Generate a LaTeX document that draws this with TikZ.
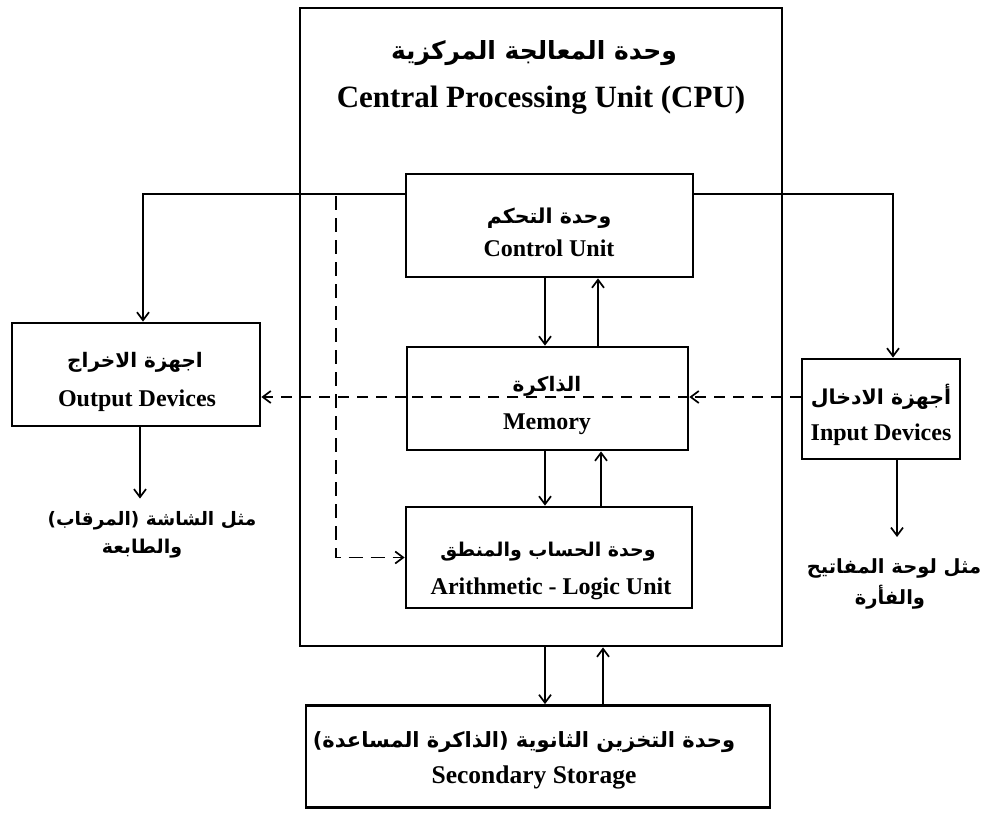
\documentclass[tikz,border=0pt]{standalone}
\usepackage{fontspec}
\setmainfont{Liberation Serif}
\newfontfamily\arabicfont[Script=Arabic]{DejaVu Sans}
\TeXXeTstate=1
\usetikzlibrary{arrows.meta}
\newcommand{\arfnt}[1]{\arabicfont\bfseries\fontsize{#1}{#1}\selectfont}
\begin{document}
\begin{tikzpicture}[x=1pt,y=-1pt,
  box/.style={draw, line width=2.8pt, inner sep=0pt},
  entxt/.style={inner sep=0pt, anchor=base, font=\fontsize{24}{28}\selectfont\bfseries},
  artxt/.style={inner sep=0pt, anchor=center},
  arr/.style={line width=1.9pt, -{Straight Barb[length=8pt,width=12pt,line width=1.7pt]}},
  dsh/.style={line width=1.9pt, dash pattern=on 11pt off 8pt},
  dshv/.style={line width=1.9pt, dash pattern=on 14pt off 8pt},
  ]
\useasboundingbox (0,0) rectangle (984,813);
% boxes
\node[box, minimum width=482pt, minimum height=638pt] (cpu) at (541,327) {};
\node[box, minimum width=287pt, minimum height=103pt] (cu) at (549.5,225.5) {};
\node[box, minimum width=281pt, minimum height=103pt] (mem) at (547.5,398.5) {};
\node[box, minimum width=286pt, minimum height=101pt] (alu) at (549,557.5) {};
\node[box, minimum width=464pt, minimum height=102pt] (sto) at (538,756.5) {};
\node[box, minimum width=248pt, minimum height=103pt] (out) at (136,374.5) {};
\node[box, minimum width=158pt, minimum height=100pt] (in) at (881,409) {};
% texts
\node[artxt] (cpuar) at (534,53) {\arfnt{25}\beginR وحدة المعالجة المركزية\endR};
\node[entxt, font=\fontsize{31}{36}\selectfont\bfseries] (cpuen) at (541,107.5) {Central Processing Unit (CPU)};
\node[artxt] (cuar) at (549,218) {\arfnt{20.5}\beginR وحدة التحكم\endR};
\node[entxt] (cuen) at (549,256.5) {Control Unit};
\node[artxt] (memar) at (547,386) {\arfnt{20}\beginR الذاكرة\endR};
\node[entxt] (memen) at (547,429.5) {Memory};
\node[artxt] (aluar) at (548,552) {\arfnt{19}\beginR وحدة الحساب والمنطق\endR};
\node[entxt] (aluen) at (551,594) {Arithmetic - Logic Unit};
\node[artxt] (stoar) at (524,742) {\arfnt{21}\beginR وحدة التخزين الثانوية (الذاكرة المساعدة)\endR};
\node[entxt, font=\fontsize{25.5}{28}\selectfont\bfseries] (stoen) at (534,783) {Secondary Storage};
\node[artxt] (outar) at (135,362) {\arfnt{20}\beginR اجهزة الاخراج\endR};
\node[entxt] (outen) at (137,406) {Output Devices};
\node[artxt] (inar) at (881,397) {\arfnt{20.5}\beginR أجهزة الادخال\endR};
\node[entxt] (inen) at (881,440.5) {Input Devices};
\node[artxt, inner ysep=13pt] (outcapa) at (152,521) {\arfnt{18.5}\beginR مثل الشاشة (المرقاب)\endR};
\node[artxt] (outcapb) at (142,549) {\arfnt{19}\beginR والطابعة\endR};
\node[artxt, inner ysep=21pt] (incapa) at (894,568) {\arfnt{19.5}\beginR مثل لوحة المفاتيح\endR};
\node[artxt] (incapb) at (890,597) {\arfnt{19.5}\beginR والفأرة\endR};
% helper coordinates
\coordinate (cl) at (143,194);
\coordinate (cr) at (893,194);
\coordinate (dv) at (336,196);
\coordinate (dh) at (0,397);
\coordinate (xd) at (545,0);
\coordinate (xu1) at (598,0);
\coordinate (xu2) at (601,0);
\coordinate (xu3) at (603,0);
\coordinate (xo) at (140,0);
\coordinate (xi) at (897,0);
% control lines
\draw[arr] (cu.west |- cl) -- (cl) -- (cl |- out.north);
\draw[arr] (cu.east |- cr) -- (cr) -- (cr |- in.north);
% vertical data arrows
\draw[arr] (cu.south -| xd) -- (mem.north -| xd);
\draw[arr] (mem.north -| xu1) -- (cu.south -| xu1);
\draw[arr] (mem.south -| xd) -- (alu.north -| xd);
\draw[arr] (alu.north -| xu2) -- (mem.south -| xu2);
\draw[arr] (cpu.south -| xd) -- (sto.north -| xd);
\draw[arr] (sto.north -| xu3) -- (cpu.south -| xu3);
% device captions
\draw[arr] (out.south -| xo) -- (outcapa.north -| xo);
\draw[arr] (in.south -| xi) -- (incapa.north -| xi);
% dashed lines
\draw[dsh, arr] (in.west |- dh) -- (mem.east |- dh);
\draw[dsh] (mem.east |- dh) -- (mem.west |- dh);
\draw[dsh, arr] (mem.west |- dh) -- (out.east |- dh);
\draw[dshv, arr] (dv) -- (dv |- alu.west) -- (alu.west);
\end{tikzpicture}
\end{document}
